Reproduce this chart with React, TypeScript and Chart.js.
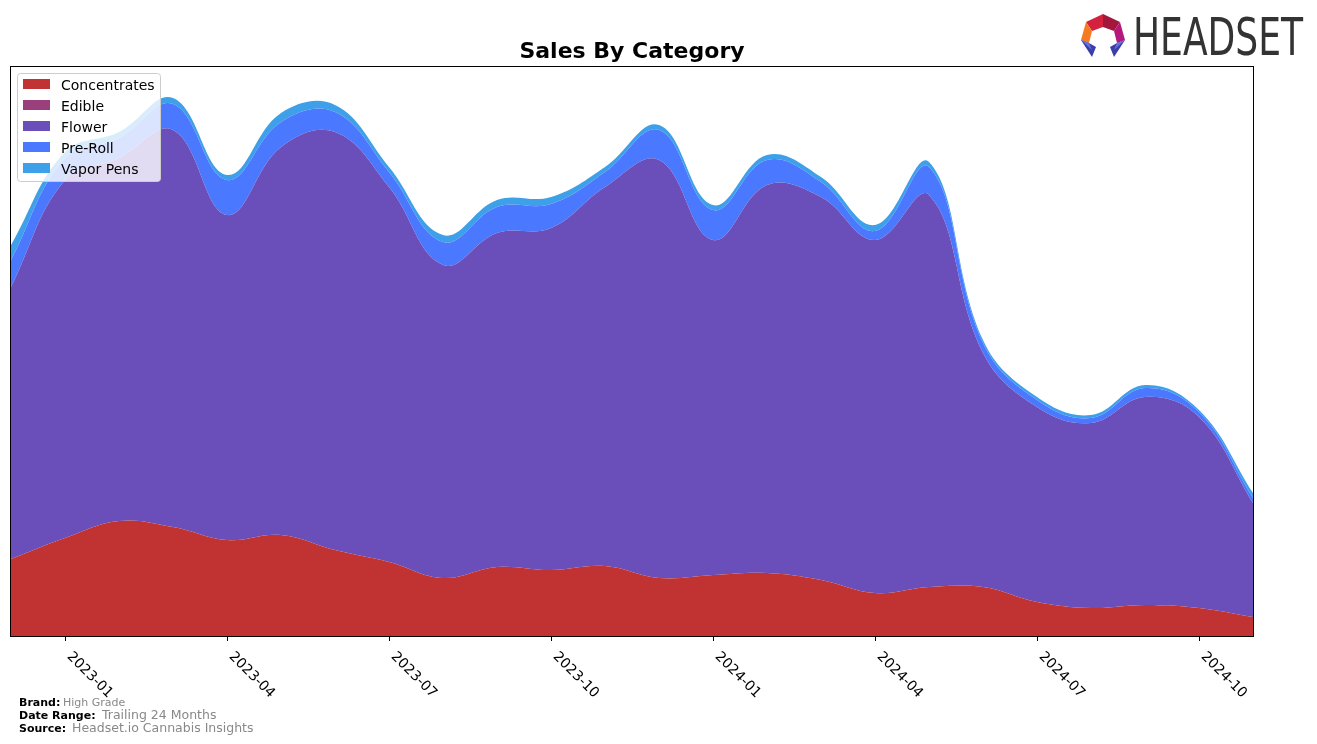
import React, { useEffect, useRef } from "react";
import { Chart, registerables } from "chart.js";

Chart.register(...registerables);

const months = [
  "2022-12", "2023-01", "2023-02", "2023-03", "2023-04", "2023-05",
  "2023-06", "2023-07", "2023-08", "2023-09", "2023-10", "2023-11",
  "2023-12", "2024-01", "2024-02", "2024-03", "2024-04", "2024-05",
  "2024-06", "2024-07", "2024-08", "2024-09", "2024-10", "2024-11",
];

const concentrates = [77, 98, 115, 109, 96, 101, 86, 74, 58, 69, 66, 70, 58, 61, 63, 56, 43, 49, 49, 34, 28, 31, 28, 19];
const edible = [0, 0, 0, 0, 0, 0, 0, 0, 0, 0, 0, 0, 0, 0, 0, 0, 0, 0, 0, 0, 0, 0, 0, 0];
const flower = [272, 358, 363, 397, 325, 388, 418, 375, 313, 334, 342, 379, 418, 335, 388, 383, 353, 392, 234, 195, 185, 208, 191, 114];
const preRoll = [27, 22, 20, 26, 35, 25, 20, 15, 23, 26, 24, 15, 30, 30, 25, 15, 9, 28, 10, 7, 5, 9, 5, 5];
const vaporPens = [15, 6, 6, 6, 5, 9, 7, 5, 7, 7, 7, 5, 5, 5, 5, 5, 6, 5, 3, 3, 3, 3, 2, 5];

const tickLabels = ["2023-01", "2023-04", "2023-07", "2023-10", "2024-01", "2024-04", "2024-07", "2024-10"];

const seriesNames = ["Concentrates", "Edible", "Flower", "Pre-Roll", "Vapor Pens"];
const seriesColors = ["#C13333", "#983F7C", "#6A4FBB", "#4A78FF", "#3EA0E8"];
const seriesData = [concentrates, edible, flower, preRoll, vaporPens];

const Y_MAX = 569;

const framePlugin = {
  id: "frameAndTicks",
  afterDraw(chart: any) {
    const ctx = chart.ctx;
    const { left, right, top, bottom } = chart.chartArea;
    const xs = chart.scales.x;
    ctx.save();
    ctx.strokeStyle = "#000";
    ctx.lineWidth = 1;
    ctx.strokeRect(Math.round(left) - 0.5, Math.round(top) - 0.5, Math.round(right - left) + 1, Math.round(bottom - top) + 1);
    ctx.font = "14px 'DejaVu Sans'";
    ctx.fillStyle = "#000";
    ctx.textAlign = "left";
    ctx.textBaseline = "alphabetic";
    tickLabels.forEach((lab) => {
      const idx = months.indexOf(lab);
      const x = Math.round(xs.getPixelForValue(idx)) + 0.5;
      ctx.beginPath();
      ctx.moveTo(x, bottom);
      ctx.lineTo(x, bottom + 5);
      ctx.stroke();
      ctx.save();
      ctx.translate(x + 1, bottom + 21);
      ctx.rotate(Math.PI / 4);
      ctx.fillText(lab, 0, 0);
      ctx.restore();
    });
    ctx.restore();
  },
};

function ChartCanvas() {
  const ref = useRef<HTMLCanvasElement>(null);
  useEffect(() => {
    if (!ref.current) return;
    const chart = new Chart(ref.current, {
      type: "line",
      data: {
        labels: months,
        datasets: seriesNames.map((name, i) => ({
          label: name,
          data: seriesData[i],
          backgroundColor: seriesColors[i],
          borderColor: seriesColors[i],
          borderWidth: 0,
          pointRadius: 0,
          tension: 0.4,
          fill: i === 0 ? "origin" : "-1",
        })),
      },
      options: {
        animation: false,
        responsive: false,
        layout: { padding: { left: 11, top: 67, right: 64, bottom: 108 } },
        plugins: {
          legend: { display: false },
          title: { display: false },
          tooltip: { enabled: false },
        },
        scales: {
          x: { display: false, offset: false },
          y: { display: false, stacked: true, min: 0, max: Y_MAX },
        },
      },
      plugins: [framePlugin],
    });
    return () => chart.destroy();
  }, []);
  return <canvas ref={ref} width={1317} height={744} style={{ position: "absolute", left: 0, top: 0 }} />;
}

export default function App() {
  const font = "'DejaVu Sans', sans-serif";
  return (
    <div style={{ position: "absolute", left: 0, top: 0, width: 1317, height: 744, background: "#fff" }}>
      <ChartCanvas />
      <svg width={1317} height={744} style={{ position: "absolute", left: 0, top: 0, pointerEvents: "none" }}>
        <text x={632} y={58} textAnchor="middle" fontFamily={font} fontWeight="bold" fontSize={22} fill="#000">
          Sales By Category
        </text>
        <rect x={17.5} y={73.5} width={143} height={108} rx={3} fill="#fff" fillOpacity={0.8} stroke="#cccccc" strokeWidth={1} />
        {seriesNames.map((name, i) => (
          <g key={name}>
            <rect x={23} y={79 + i * 21} width={27} height={10} fill={seriesColors[i]} />
            <text x={61} y={90 + i * 21} fontFamily={font} fontSize={14} fill="#000">
              {name}
            </text>
          </g>
        ))}
        <text x={19} y={706} fontFamily={font} fontSize={11} fontWeight="bold" fill="#000">Brand:</text>
        <text x={63} y={706} fontFamily={font} fontSize={11} fill="#888">High Grade</text>
        <text x={19} y={719} fontFamily={font} fontSize={11} fontWeight="bold" fill="#000">Date Range:</text>
        <text x={102} y={719} fontFamily={font} fontSize={12.5} fill="#888">Trailing 24 Months</text>
        <text x={19} y={732} fontFamily={font} fontSize={11} fontWeight="bold" fill="#000">Source:</text>
        <text x={72} y={732} fontFamily={font} fontSize={12.5} fill="#888">Headset.io Cannabis Insights</text>
        <g>
          <polygon points="1103,14 1086,22 1092,31 1103,27" fill="#D4213D" />
          <polygon points="1103,14 1120,22 1114,31 1103,27" fill="#A3173A" />
          <polygon points="1086,22 1081,40 1089,43 1092,31" fill="#F47B20" />
          <polygon points="1120,22 1125,40 1117,43 1114,31" fill="#B5187A" />
          <polygon points="1081,40 1089,43 1096,47 1092,57" fill="#3A3FA8" />
          <polygon points="1125,40 1117,43 1110,47 1114,57" fill="#3A3FA8" />
          <polygon points="1081,40 1089,43 1092,50" fill="#6A6FE0" />
          <polygon points="1125,40 1117,43 1114,50" fill="#6A6FE0" />
        </g>
        <text x={1133} y={55} fontFamily="'Liberation Sans Narrow', 'DejaVu Sans Condensed', sans-serif" fontSize={51} fill="#333" textLength={170} lengthAdjust="spacingAndGlyphs">
          HEADSET
        </text>
      </svg>
    </div>
  );
}
